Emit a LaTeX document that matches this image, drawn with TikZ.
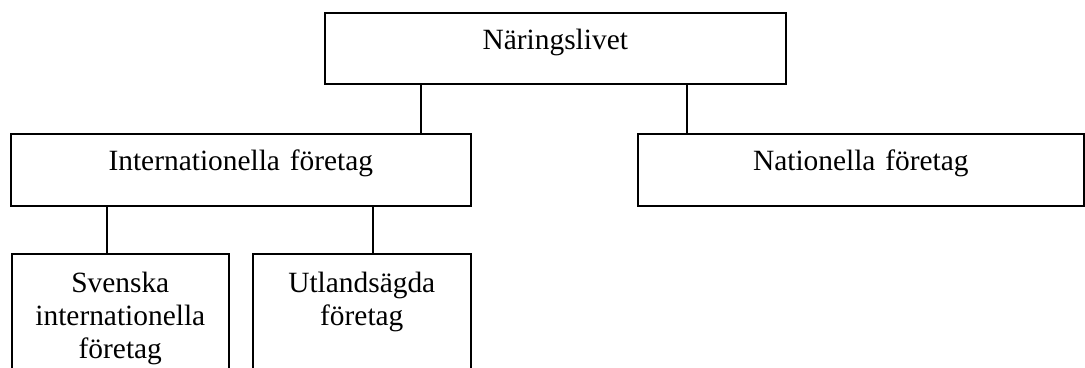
\documentclass[tikz,border=0pt]{standalone}
\usepackage{fontspec}
\setmainfont{Liberation Serif}

\tikzset{
  orgbox/.style={draw, line width=0.8pt, anchor=north west, inner sep=0pt,
    align=center, font=\fontsize{14.7}{16.5}\selectfont,
    text height=18.5pt, text depth=17.5pt},
  lowbox/.style={orgbox, text height=19.5pt, text depth=60pt},
  orgline/.style={line width=0.8pt},
}

\begin{document}
\begin{tikzpicture}
    \useasboundingbox (0,0) rectangle (542.5pt,-184pt);
    \clip (0,0) rectangle (542.5pt,-184pt);
    % top level
    \node[orgbox, text width=230.5pt, text depth=17pt] (naring) at (162pt,-6pt) {N\"aringslivet};
    % second level
    \node[orgbox, text width=230pt] (inter) at (5pt,-66.5pt) {Internationella f\"oretag};
    \node[orgbox, text width=223pt] (nation) at (318.5pt,-66.5pt) {Nationella f\"oretag};
    % third level
    \node[lowbox, text width=108.5pt] (svensk) at (5.5pt,-126.5pt) {Svenska\\ internationella\\ f\"oretag};
    \node[lowbox, text width=109pt] (utland) at (126pt,-126.5pt) {Utlands\"agda\\ f\"oretag};
    % connectors
    \draw[orgline] ([xshift=48.5pt]naring.south west) -- ([xshift=48.5pt]naring.south west |- inter.north);
    \draw[orgline] ([xshift=181.5pt]naring.south west) -- ([xshift=181.5pt]naring.south west |- nation.north);
    \draw[orgline] ([xshift=48.5pt]inter.south west) -- ([xshift=48.5pt]inter.south west |- svensk.north);
    \draw[orgline] ([xshift=181.5pt]inter.south west) -- ([xshift=181.5pt]inter.south west |- utland.north);
\end{tikzpicture}
\end{document}
